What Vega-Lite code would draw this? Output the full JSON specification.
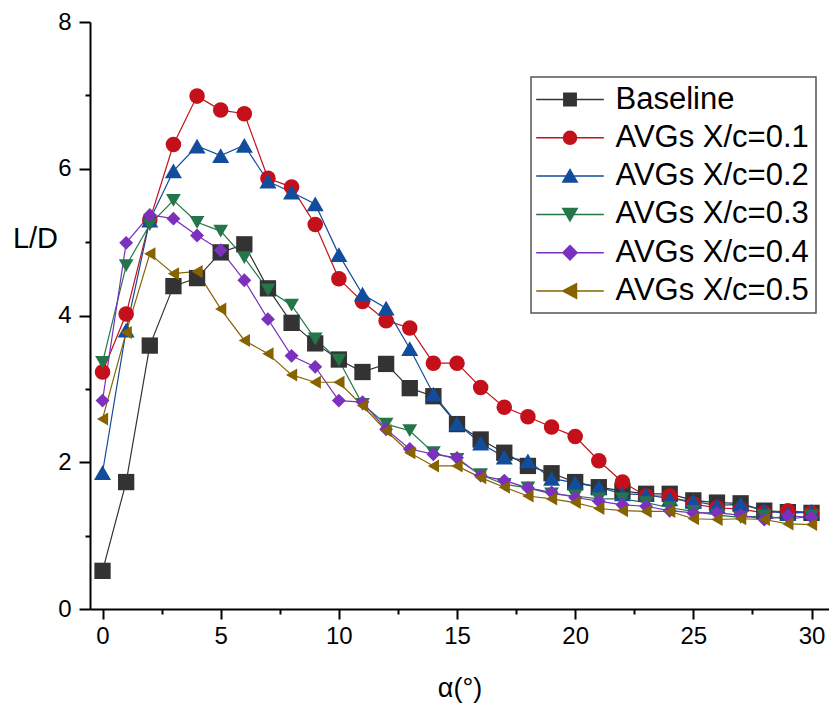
{
  "$schema": "https://vega.github.io/schema/vega-lite/v6.json",
  "width": 739,
  "height": 587,
  "autosize": {"type": "none"},
  "padding": {"left": 90, "right": 0, "top": 22, "bottom": 95},
  "background": "white",
  "config": {
    "view": {"stroke": null},
    "font": "Liberation Sans",
    "axis": {"labelFont": "Liberation Sans", "titleFont": "Liberation Sans", "labelColor": "black", "titleColor": "black", "grid": false, "domainColor": "black", "tickColor": "black"}
  },
  "data": {"values": [
    {"s":"Baseline","a":0,"v":0.52},{"s":"Baseline","a":1,"v":1.73},{"s":"Baseline","a":2,"v":3.59},{"s":"Baseline","a":3,"v":4.40},{"s":"Baseline","a":4,"v":4.51},{"s":"Baseline","a":5,"v":4.86},{"s":"Baseline","a":6,"v":4.97},{"s":"Baseline","a":7,"v":4.37},{"s":"Baseline","a":8,"v":3.90},{"s":"Baseline","a":9,"v":3.62},{"s":"Baseline","a":10,"v":3.40},{"s":"Baseline","a":11,"v":3.23},{"s":"Baseline","a":12,"v":3.34},{"s":"Baseline","a":13,"v":3.01},{"s":"Baseline","a":14,"v":2.90},{"s":"Baseline","a":15,"v":2.52},{"s":"Baseline","a":16,"v":2.31},{"s":"Baseline","a":17,"v":2.13},{"s":"Baseline","a":18,"v":1.95},{"s":"Baseline","a":19,"v":1.85},{"s":"Baseline","a":20,"v":1.73},{"s":"Baseline","a":21,"v":1.66},{"s":"Baseline","a":22,"v":1.61},{"s":"Baseline","a":23,"v":1.57},{"s":"Baseline","a":24,"v":1.57},{"s":"Baseline","a":25,"v":1.48},{"s":"Baseline","a":26,"v":1.45},{"s":"Baseline","a":27,"v":1.44},{"s":"Baseline","a":28,"v":1.34},{"s":"Baseline","a":29,"v":1.32},{"s":"Baseline","a":30,"v":1.31},
    {"s":"AVGs X/c=0.1","a":0,"v":3.23},{"s":"AVGs X/c=0.1","a":1,"v":4.02},{"s":"AVGs X/c=0.1","a":2,"v":5.30},{"s":"AVGs X/c=0.1","a":3,"v":6.33},{"s":"AVGs X/c=0.1","a":4,"v":6.99},{"s":"AVGs X/c=0.1","a":5,"v":6.80},{"s":"AVGs X/c=0.1","a":6,"v":6.75},{"s":"AVGs X/c=0.1","a":7,"v":5.87},{"s":"AVGs X/c=0.1","a":8,"v":5.75},{"s":"AVGs X/c=0.1","a":9,"v":5.24},{"s":"AVGs X/c=0.1","a":10,"v":4.50},{"s":"AVGs X/c=0.1","a":11,"v":4.19},{"s":"AVGs X/c=0.1","a":12,"v":3.93},{"s":"AVGs X/c=0.1","a":13,"v":3.83},{"s":"AVGs X/c=0.1","a":14,"v":3.35},{"s":"AVGs X/c=0.1","a":15,"v":3.35},{"s":"AVGs X/c=0.1","a":16,"v":3.02},{"s":"AVGs X/c=0.1","a":17,"v":2.75},{"s":"AVGs X/c=0.1","a":18,"v":2.62},{"s":"AVGs X/c=0.1","a":19,"v":2.48},{"s":"AVGs X/c=0.1","a":20,"v":2.35},{"s":"AVGs X/c=0.1","a":21,"v":2.02},{"s":"AVGs X/c=0.1","a":22,"v":1.73},{"s":"AVGs X/c=0.1","a":23,"v":1.54},{"s":"AVGs X/c=0.1","a":24,"v":1.54},{"s":"AVGs X/c=0.1","a":25,"v":1.43},{"s":"AVGs X/c=0.1","a":26,"v":1.38},{"s":"AVGs X/c=0.1","a":27,"v":1.36},{"s":"AVGs X/c=0.1","a":28,"v":1.31},{"s":"AVGs X/c=0.1","a":29,"v":1.34},{"s":"AVGs X/c=0.1","a":30,"v":1.31},
    {"s":"AVGs X/c=0.2","a":0,"v":1.86},{"s":"AVGs X/c=0.2","a":1,"v":3.80},{"s":"AVGs X/c=0.2","a":2,"v":5.30},{"s":"AVGs X/c=0.2","a":3,"v":5.97},{"s":"AVGs X/c=0.2","a":4,"v":6.31},{"s":"AVGs X/c=0.2","a":5,"v":6.18},{"s":"AVGs X/c=0.2","a":6,"v":6.32},{"s":"AVGs X/c=0.2","a":7,"v":5.83},{"s":"AVGs X/c=0.2","a":8,"v":5.68},{"s":"AVGs X/c=0.2","a":9,"v":5.52},{"s":"AVGs X/c=0.2","a":10,"v":4.83},{"s":"AVGs X/c=0.2","a":11,"v":4.29},{"s":"AVGs X/c=0.2","a":12,"v":4.10},{"s":"AVGs X/c=0.2","a":13,"v":3.55},{"s":"AVGs X/c=0.2","a":14,"v":2.93},{"s":"AVGs X/c=0.2","a":15,"v":2.53},{"s":"AVGs X/c=0.2","a":16,"v":2.26},{"s":"AVGs X/c=0.2","a":17,"v":2.07},{"s":"AVGs X/c=0.2","a":18,"v":2.02},{"s":"AVGs X/c=0.2","a":19,"v":1.78},{"s":"AVGs X/c=0.2","a":20,"v":1.72},{"s":"AVGs X/c=0.2","a":21,"v":1.66},{"s":"AVGs X/c=0.2","a":22,"v":1.57},{"s":"AVGs X/c=0.2","a":23,"v":1.56},{"s":"AVGs X/c=0.2","a":24,"v":1.50},{"s":"AVGs X/c=0.2","a":25,"v":1.47},{"s":"AVGs X/c=0.2","a":26,"v":1.41},{"s":"AVGs X/c=0.2","a":27,"v":1.43},{"s":"AVGs X/c=0.2","a":28,"v":1.34},{"s":"AVGs X/c=0.2","a":29,"v":1.30},{"s":"AVGs X/c=0.2","a":30,"v":1.33},
    {"s":"AVGs X/c=0.3","a":0,"v":3.36},{"s":"AVGs X/c=0.3","a":1,"v":4.68},{"s":"AVGs X/c=0.3","a":2,"v":5.24},{"s":"AVGs X/c=0.3","a":3,"v":5.57},{"s":"AVGs X/c=0.3","a":4,"v":5.27},{"s":"AVGs X/c=0.3","a":5,"v":5.15},{"s":"AVGs X/c=0.3","a":6,"v":4.79},{"s":"AVGs X/c=0.3","a":7,"v":4.35},{"s":"AVGs X/c=0.3","a":8,"v":4.14},{"s":"AVGs X/c=0.3","a":9,"v":3.68},{"s":"AVGs X/c=0.3","a":10,"v":3.39},{"s":"AVGs X/c=0.3","a":11,"v":2.79},{"s":"AVGs X/c=0.3","a":12,"v":2.52},{"s":"AVGs X/c=0.3","a":13,"v":2.43},{"s":"AVGs X/c=0.3","a":14,"v":2.13},{"s":"AVGs X/c=0.3","a":15,"v":2.04},{"s":"AVGs X/c=0.3","a":16,"v":1.83},{"s":"AVGs X/c=0.3","a":17,"v":1.70},{"s":"AVGs X/c=0.3","a":18,"v":1.65},{"s":"AVGs X/c=0.3","a":19,"v":1.57},{"s":"AVGs X/c=0.3","a":20,"v":1.54},{"s":"AVGs X/c=0.3","a":21,"v":1.50},{"s":"AVGs X/c=0.3","a":22,"v":1.50},{"s":"AVGs X/c=0.3","a":23,"v":1.45},{"s":"AVGs X/c=0.3","a":24,"v":1.38},{"s":"AVGs X/c=0.3","a":25,"v":1.33},{"s":"AVGs X/c=0.3","a":26,"v":1.28},{"s":"AVGs X/c=0.3","a":27,"v":1.25},{"s":"AVGs X/c=0.3","a":28,"v":1.27},{"s":"AVGs X/c=0.3","a":29,"v":1.22},{"s":"AVGs X/c=0.3","a":30,"v":1.27},
    {"s":"AVGs X/c=0.4","a":0,"v":2.84},{"s":"AVGs X/c=0.4","a":1,"v":4.99},{"s":"AVGs X/c=0.4","a":2,"v":5.37},{"s":"AVGs X/c=0.4","a":3,"v":5.32},{"s":"AVGs X/c=0.4","a":4,"v":5.09},{"s":"AVGs X/c=0.4","a":5,"v":4.89},{"s":"AVGs X/c=0.4","a":6,"v":4.48},{"s":"AVGs X/c=0.4","a":7,"v":3.95},{"s":"AVGs X/c=0.4","a":8,"v":3.45},{"s":"AVGs X/c=0.4","a":9,"v":3.30},{"s":"AVGs X/c=0.4","a":10,"v":2.84},{"s":"AVGs X/c=0.4","a":11,"v":2.82},{"s":"AVGs X/c=0.4","a":12,"v":2.45},{"s":"AVGs X/c=0.4","a":13,"v":2.18},{"s":"AVGs X/c=0.4","a":14,"v":2.11},{"s":"AVGs X/c=0.4","a":15,"v":2.06},{"s":"AVGs X/c=0.4","a":16,"v":1.82},{"s":"AVGs X/c=0.4","a":17,"v":1.75},{"s":"AVGs X/c=0.4","a":18,"v":1.65},{"s":"AVGs X/c=0.4","a":19,"v":1.59},{"s":"AVGs X/c=0.4","a":20,"v":1.52},{"s":"AVGs X/c=0.4","a":21,"v":1.47},{"s":"AVGs X/c=0.4","a":22,"v":1.42},{"s":"AVGs X/c=0.4","a":23,"v":1.40},{"s":"AVGs X/c=0.4","a":24,"v":1.34},{"s":"AVGs X/c=0.4","a":25,"v":1.31},{"s":"AVGs X/c=0.4","a":26,"v":1.31},{"s":"AVGs X/c=0.4","a":27,"v":1.28},{"s":"AVGs X/c=0.4","a":28,"v":1.22},{"s":"AVGs X/c=0.4","a":29,"v":1.27},{"s":"AVGs X/c=0.4","a":30,"v":1.25},
    {"s":"AVGs X/c=0.5","a":0,"v":2.59},{"s":"AVGs X/c=0.5","a":1,"v":3.77},{"s":"AVGs X/c=0.5","a":2,"v":4.84},{"s":"AVGs X/c=0.5","a":3,"v":4.57},{"s":"AVGs X/c=0.5","a":4,"v":4.60},{"s":"AVGs X/c=0.5","a":5,"v":4.09},{"s":"AVGs X/c=0.5","a":6,"v":3.66},{"s":"AVGs X/c=0.5","a":7,"v":3.48},{"s":"AVGs X/c=0.5","a":8,"v":3.19},{"s":"AVGs X/c=0.5","a":9,"v":3.09},{"s":"AVGs X/c=0.5","a":10,"v":3.09},{"s":"AVGs X/c=0.5","a":11,"v":2.77},{"s":"AVGs X/c=0.5","a":12,"v":2.43},{"s":"AVGs X/c=0.5","a":13,"v":2.13},{"s":"AVGs X/c=0.5","a":14,"v":1.95},{"s":"AVGs X/c=0.5","a":15,"v":1.95},{"s":"AVGs X/c=0.5","a":16,"v":1.79},{"s":"AVGs X/c=0.5","a":17,"v":1.66},{"s":"AVGs X/c=0.5","a":18,"v":1.54},{"s":"AVGs X/c=0.5","a":19,"v":1.50},{"s":"AVGs X/c=0.5","a":20,"v":1.45},{"s":"AVGs X/c=0.5","a":21,"v":1.37},{"s":"AVGs X/c=0.5","a":22,"v":1.34},{"s":"AVGs X/c=0.5","a":23,"v":1.33},{"s":"AVGs X/c=0.5","a":24,"v":1.33},{"s":"AVGs X/c=0.5","a":25,"v":1.23},{"s":"AVGs X/c=0.5","a":26,"v":1.22},{"s":"AVGs X/c=0.5","a":27,"v":1.23},{"s":"AVGs X/c=0.5","a":28,"v":1.22},{"s":"AVGs X/c=0.5","a":29,"v":1.16},{"s":"AVGs X/c=0.5","a":30,"v":1.15}
  ]},
  "encoding": {
    "color": {
      "field": "s", "type": "nominal",
      "scale": {"domain": ["Baseline","AVGs X/c=0.1","AVGs X/c=0.2","AVGs X/c=0.3","AVGs X/c=0.4","AVGs X/c=0.5"],
                "range": ["#333333","#C4101A","#124C9C","#247648","#7B30BE","#876300"]},
      "legend": {
        "title": null,
        "orient": "none",
        "legendX": 441,
        "legendY": 55,
        "padding": 7,
        "strokeColor": "#555555",
        "fillColor": "white",
        "labelFont": "Liberation Sans",
        "labelFontSize": 31,
        "labelColor": "black",
        "labelLimit": 400,
        "labelOffset": 30,
        "symbolOffset": 16.5,
        "symbolSize": 169,
        "rowPadding": 6.3,
        "encode": {
          "legend": {"update": {"strokeWidth": {"value": 1.5}}},
          "symbols": {
            "update": {
              "shape": {"signal": "['M-5.2,0H5.2M-0.95,-0.95H0.95V0.95H-0.95Z','M-5.2,0H5.2M-1,0A1,1,0,1,0,1,0A1,1,0,1,0,-1,0Z','M-5.2,0H5.2M0,-1L1.1,0.9H-1.1Z','M-5.2,0H5.2M0,1L1.1,-0.9H-1.1Z','M-5.2,0H5.2M-1.1,0L0,-1.1L1.1,0L0,1.1Z','M-5.2,0H5.2M-1.1,0L1,-1.1V1.1Z'][indexof(['Baseline','AVGs X/c=0.1','AVGs X/c=0.2','AVGs X/c=0.3','AVGs X/c=0.4','AVGs X/c=0.5'], datum.value)]"},
              "stroke": {"signal": "scale('color', datum.value)"},
              "fill": {"signal": "scale('color', datum.value)"},
              "size": {"value": 169},
              "strokeWidth": {"value": 1.5},
              "opacity": {"value": 1}
            }
          }
        }
      }
    }
  },
  "layer": [
    {
      "mark": {"type": "line", "strokeWidth": 1.2},
      "encoding": {
        "x": {"field": "a", "type": "quantitative", "scale": {"domain": [-0.53, 30.74], "nice": false, "zero": false},
              "axis": {"orient": "bottom", "values": [0,5,10,15,20,25,30], "domainWidth": 2, "tickWidth": 2, "tickSize": 10, "labelFontSize": 24, "labelPadding": 5, "title": "α(°)", "titleFontSize": 27, "titleFontWeight": "normal", "titleY": 87, "titleBaseline": "alphabetic"}},
        "y": {"field": "v", "type": "quantitative", "scale": {"domain": [0, 8], "nice": false},
              "axis": {"orient": "left", "values": [0,2,4,6,8], "domainWidth": 2, "tickWidth": 2, "tickSize": 11, "labelFontSize": 24, "labelPadding": 8, "title": "L/D", "titleAngle": 0, "titleFontSize": 29, "titleFontWeight": "normal", "titleAlign": "center", "titleBaseline": "alphabetic", "titleX": -55, "titleY": 225}},
        "detail": {"field": "s"}
      }
    },
    {
      "mark": {"type": "point", "filled": true, "opacity": 1},
      "encoding": {
        "x": {"field": "a", "type": "quantitative", "scale": {"domain": [-0.53, 30.74], "nice": false, "zero": false},
              "axis": {"orient": "bottom", "values": [2.5,7.5,12.5,17.5,22.5,27.5], "domain": false, "tickWidth": 2, "tickSize": 5, "labels": false, "title": null}},
        "y": {"field": "v", "type": "quantitative", "scale": {"domain": [0, 8], "nice": false},
              "axis": {"orient": "left", "values": [1,3,5,7], "domain": false, "tickWidth": 2, "tickSize": 5, "labels": false, "title": null}},
        "shape": {"field": "s", "type": "nominal",
                  "scale": {"domain": ["AVGs X/c=0.1","Baseline","AVGs X/c=0.2","AVGs X/c=0.3","AVGs X/c=0.4","AVGs X/c=0.5"],
                            "range": ["circle","square","triangle-up","triangle-down","diamond","triangle-left"]},
                  "legend": null},
        "size": {"field": "s", "type": "nominal",
                 "scale": {"domain": ["AVGs X/c=0.2","Baseline","AVGs X/c=0.1","AVGs X/c=0.3","AVGs X/c=0.4","AVGs X/c=0.5"],
                           "range": [290, 169, 200, 290, 300, 290]},
                 "legend": null}
      }
    }
  ],
  "resolve": {"axis": {"x": "independent", "y": "independent"}}
}
